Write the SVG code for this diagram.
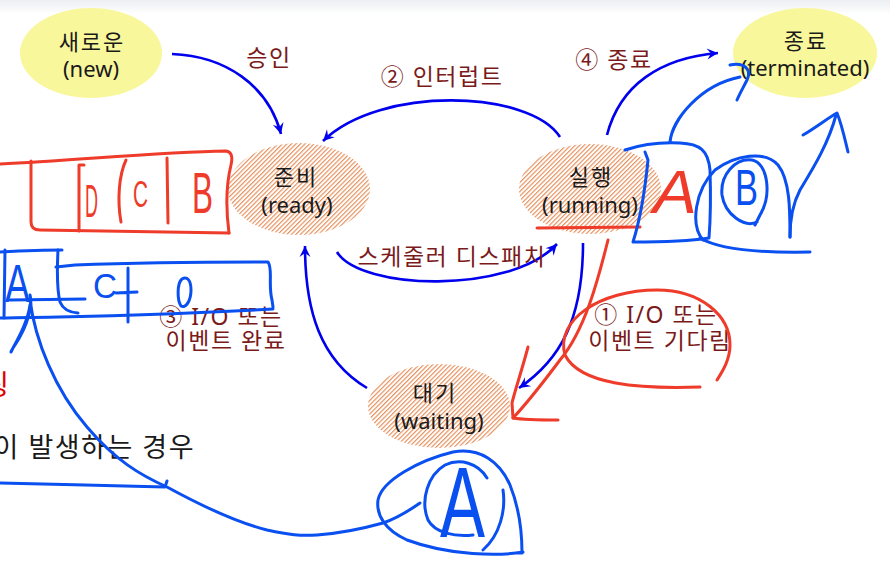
<svg xmlns="http://www.w3.org/2000/svg" width="890" height="576" viewBox="0 0 890 576">
<defs>
<pattern id="hatch" width="3.2" height="3.2" patternUnits="userSpaceOnUse" patternTransform="rotate(45)">
<rect width="3.2" height="3.2" fill="#fff"/>
<line x1="0.6" y1="0" x2="0.6" y2="3.2" stroke="#e58a52" stroke-width="1.1"/>
</pattern>
<linearGradient id="topband" x1="0" y1="0" x2="0" y2="1">
<stop offset="0" stop-color="#eceef2"/>
<stop offset="1" stop-color="#ffffff"/>
</linearGradient>
<marker id="arr" markerUnits="userSpaceOnUse" markerWidth="13" markerHeight="11" refX="11" refY="5.5" orient="auto" overflow="visible">
<path d="M0,0 L11,5.5 L0,11 L4,5.5 z" fill="#0000ee"/>
</marker>
</defs>
<style>
.node text{font-family:"Noto Sans","Noto Sans CJK KR",sans-serif;font-size:22px;fill:#1a1a1a;text-anchor:middle;dominant-baseline:central}
.node text.ko{letter-spacing:2px}
.yel{fill:#f9f79c}
.hat{fill:url(#hatch)}
.conn path{fill:none;stroke:#0000ee;stroke-width:2.6;marker-end:url(#arr)}
.lbl{font-family:"Noto Sans","Noto Sans CJK KR",sans-serif;font-size:23px;letter-spacing:1.5px;fill:#7a1a1a;text-anchor:middle;dominant-baseline:central}
.ink{fill:none;stroke-width:3;stroke-linecap:round;stroke-linejoin:round}
.blue{stroke:#0a4ff0}
.red{stroke:#ee3b2a}
.hw{font-family:"Liberation Sans",sans-serif}
.hwb{fill:#0a4ff0}
.hwr{fill:#ee3b2a}
</style>
<rect width="890" height="576" fill="#fff"/>
<rect width="890" height="14" fill="url(#topband)"/>

<text x="195" y="446" font-family="Noto Sans, Noto Sans CJK KR, sans-serif" font-size="27" letter-spacing="1.5" fill="#1a1a1a" text-anchor="end" dominant-baseline="central">이 발생하는 경우</text>
<text x="9" y="384" font-family="Noto Sans, Noto Sans CJK KR, sans-serif" font-size="28" fill="#dd0000" text-anchor="end" dominant-baseline="central">스케줄링</text>

<g id="node-new" class="node"><ellipse class="yel" cx="91" cy="53" rx="71" ry="45"/><text class="ko" x="92" y="41">새로운</text><text x="91" y="68">(new)</text></g>
<g id="node-terminated" class="node"><ellipse class="yel" cx="805" cy="53" rx="72" ry="45"/><text class="ko" x="806" y="40">종료</text><text x="805" y="67">(terminated)</text></g>
<g id="node-ready" class="node"><ellipse class="hat" cx="299" cy="189" rx="71" ry="46"/><text class="ko" x="296" y="176">준비</text><text x="297" y="204">(ready)</text></g>
<g id="node-running" class="node"><ellipse class="hat" cx="590" cy="189" rx="71" ry="45"/><text class="ko" x="591" y="176">실행</text><text x="590" y="204">(running)</text></g>
<g id="node-waiting" class="node"><ellipse class="hat" cx="439" cy="406" rx="71" ry="42"/><text class="ko" x="435" y="392">대기</text><text x="439" y="420">(waiting)</text></g>

<g id="connectors" class="conn">
<path d="M172,54 C225,56 268,85 281,134"/>
<path d="M560,137 C530,90 380,85 323,141"/>
<path d="M607,135 C620,85 660,58 718,53"/>
<path d="M337,252 C360,290 510,295 557,244"/>
<path d="M583,243 C583,320 560,360 519,388"/>
<path d="M367,388 C320,360 305,310 305,246"/>
</g>

<g id="labels">
<text class="lbl" x="269" y="57">승인</text>
<text class="lbl" x="442" y="76">② 인터럽트</text>
<text class="lbl" x="614" y="59">④ 종료</text>
<text class="lbl" x="452" y="256">스케줄러 디스패치</text>
<text class="lbl" x="221" y="316">③ I/O 또는</text>
<text class="lbl" x="226" y="340">이벤트 완료</text>
<text class="lbl" x="656" y="314">① I/O 또는</text>
<text class="lbl" x="660" y="340">이벤트 기다림</text>
</g>

<g id="ink-red">
<path class="ink red" d="M0,164 C80,160 160,152 226,151 Q234,152 231,165 C226,185 226,210 229,233"/>
<path class="ink red" d="M31,161 L31,222 Q31,230 40,230 L229,233"/>
<path class="ink red" d="M84,165 L79,165 L79,231"/>
<path class="ink red" d="M126,160 C119,175 117,200 121,222"/>
<path class="ink red" d="M167,158 L168,223"/>
<text class="hw hwr" x="85" y="217" font-size="46" textLength="13" lengthAdjust="spacingAndGlyphs">D</text>
<text class="hw hwr" x="133" y="207" font-size="37" textLength="15" lengthAdjust="spacingAndGlyphs">C</text>
<text class="hw hwr" x="192" y="213" font-size="58" textLength="21" lengthAdjust="spacingAndGlyphs">B</text>
<text class="hw hwr" x="653" y="213" font-size="62" font-style="italic" textLength="44" lengthAdjust="spacingAndGlyphs">A</text>
<path class="ink red" d="M537,228 L640,227"/>
<path class="ink red" d="M608,240 C598,280 585,330 560,360 C545,380 530,400 513,418"/>
<path class="ink red" d="M528,347 C522,370 515,390 512,403 L513,418 C525,420 540,420 558,420"/>
<path class="ink red" d="M700,387 C640,389 580,385 565,355 C555,320 600,290 657,290 C700,290 730,315 730,345 C730,360 722,372 717,380"/>
</g>

<g id="ink-blue">
<path class="ink blue" d="M0,252 C20,251 45,250 62,250"/>
<path class="ink blue" d="M5,250 L4,318"/>
<path class="ink blue" d="M58,250 C57,270 57,290 60,302 Q64,312 78,313"/>
<path class="ink blue" d="M56,267 L75,265 C130,263 200,262 268,262 C273,268 268,285 272,300 L273,307"/>
<path class="ink blue" d="M0,318 C60,317 150,316 273,309"/>
<path class="ink blue" d="M10,300 L85,299"/>
<path class="ink blue" d="M30,295 C33,305 28,325 15,345 C10,352 10,355 13,348 C20,335 28,320 30,305"/>
<text class="hw hwb" x="5" y="302" font-size="54" textLength="25" lengthAdjust="spacingAndGlyphs">A</text>
<text class="hw hwb" x="93" y="298" font-size="35" textLength="24" lengthAdjust="spacingAndGlyphs">C</text>
<path class="ink blue" d="M128,268 L128,322 M116,293 L137,292"/>
<path class="ink blue" d="M182,279 C177,283 177,300 181,306 C186,309 191,300 191,290 C191,280 187,276 182,279"/>
<path class="ink blue" d="M30,300 C35,340 55,390 87,427 C115,460 140,475 167,487 C200,505 235,522 267,530 C290,535 300,536 317,535 C345,533 365,528 383,523 C398,518 410,510 420,503"/>
<path class="ink blue" d="M0,483 C50,484 120,486 165,487 L167,481"/>
<path class="ink blue" d="M523,552 C500,556 450,556 407,540 C385,530 376,515 378,500 C382,480 420,460 453,452 C480,447 500,462 510,485 C518,505 522,530 522,553 L517,553"/>
<path class="ink blue" d="M487,478 C478,463 460,458 445,465 C428,475 420,500 428,520 C435,533 455,537 473,535 M503,490 C506,510 500,535 483,550"/>
<text class="hw hwb" x="440" y="537" font-size="100" textLength="45" lengthAdjust="spacingAndGlyphs">A</text>
<path class="ink blue" d="M625,150 C640,145 660,142 680,143 C700,144 708,150 710,170 C711,200 710,225 709,238 C690,241 660,242 633,242 C640,220 645,190 648,160 L645,152"/>
<path class="ink blue" d="M670,142 C672,120 700,85 740,77"/>
<path class="ink blue" d="M730,65 C745,62 752,70 747,80 C743,88 740,93 737,100"/>
<path class="ink blue" d="M757,222 C745,228 725,215 722,195 C720,175 735,158 752,160 C768,163 772,195 760,215 L755,225"/>
<text class="hw hwb" x="735" y="205" font-size="50" textLength="23" lengthAdjust="spacingAndGlyphs">B</text>
<path class="ink blue" d="M703,240 C690,225 695,190 715,170 C735,155 765,150 778,165 C790,180 790,210 790,237"/>
<path class="ink blue" d="M790,237 C790,225 792,205 800,190 C812,170 828,145 836,115"/>
<path class="ink blue" d="M803,135 C815,128 828,118 837,113 C842,125 845,140 848,152"/>
<path class="ink blue" d="M700,238 C720,250 760,253 810,252"/>
</g>
</svg>
